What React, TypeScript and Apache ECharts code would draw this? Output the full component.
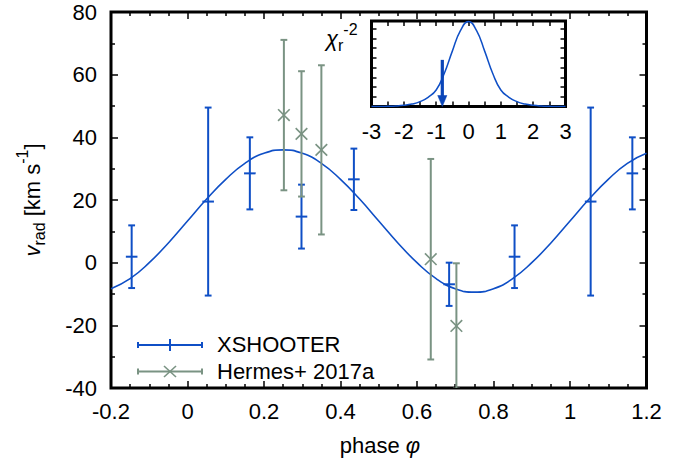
import React, { useEffect, useRef } from 'react';
import * as echarts from 'echarts';

// XSHOOTER radial velocities (phase, v_rad, error)
const xsPhase = [-0.146, 0.054, 0.163, 0.298, 0.435, 0.684, 0.855, 1.054, 1.163];
const xsVrad = [1.9, 19.5, 28.5, 14.7, 26.6, -6.9, 1.9, 19.5, 28.5];
const xsErr = [10.0, 30.0, 11.5, 10.2, 9.8, 6.9, 10.0, 30.0, 11.5];

// Hermes+ 2017a radial velocities
const hePhase = [0.252, 0.298, 0.35, 0.636, 0.703];
const heVrad = [47.1, 41.1, 36.0, 1.1, -20.2];
const heErr = [24.0, 20.0, 27.0, 32.0, 20.0];

// fitted curve
const curvePhase = [-0.2, -0.15, -0.1, -0.05, 0, 0.05, 0.1, 0.15, 0.2, 0.25, 0.3, 0.35, 0.4, 0.45, 0.5, 0.55, 0.6, 0.65, 0.7, 0.75, 0.8, 0.85, 0.9, 0.95, 1, 1.05, 1.1, 1.15, 1.2];
const curveVrad = [-8.3, -5.1, 0.0, 6.3, 13.3, 20.3, 26.6, 31.7, 34.9, 36.0, 34.9, 31.7, 26.6, 20.3, 13.3, 6.3, 0.0, -5.1, -8.3, -9.4, -8.3, -5.1, 0.0, 6.3, 13.3, 20.3, 26.6, 31.7, 34.9];

// inset curve
const insetX = [-3, -2.75, -2.5, -2.25, -2, -1.75, -1.5, -1.25, -1, -0.75, -0.5, -0.25, 0, 0.25, 0.5, 0.75, 1, 1.25, 1.5, 1.75, 2, 2.25, 2.5, 2.75, 3];
const insetY = [0, 0, 0.002, 0.005, 0.012, 0.025, 0.05, 0.095, 0.17, 0.34, 0.57, 0.78, 0.875, 0.78, 0.57, 0.34, 0.17, 0.095, 0.05, 0.025, 0.012, 0.005, 0.002, 0, 0];

// inset arrow: x, top, bottom
const arrowX = [-0.81];
const arrowTop = [0.48];
const arrowBottom = [0];

const legendNames = ['XSHOOTER', 'Hermes+ 2017a'];

const FONT = '"Liberation Sans", Arial, Helvetica, sans-serif';
const BLUE = '#0f4fc6';
const GREY = '#7a9383';
const FS = 22;

const fmt = (v: number) => String(parseFloat(v.toFixed(2)));

const errorBarRender = (color: string, marker: 'plus' | 'cross') => (params: any, api: any) => {
  const x = api.value(0);
  const y = api.value(1);
  const e = api.value(2);
  const c = api.coord([x, y]);
  const hi = api.coord([x, y + e]);
  const lo = api.coord([x, y - e]);
  const cap = 3.4;
  const m = 5.8;
  const st = { stroke: color, lineWidth: 2, fill: 'none' };
  const children: any[] = [
    { type: 'line', shape: { x1: c[0], y1: hi[1], x2: c[0], y2: lo[1] }, style: st },
    { type: 'line', shape: { x1: c[0] - cap, y1: hi[1], x2: c[0] + cap, y2: hi[1] }, style: st },
    { type: 'line', shape: { x1: c[0] - cap, y1: lo[1], x2: c[0] + cap, y2: lo[1] }, style: st },
  ];
  if (marker === 'plus') {
    children.push({ type: 'line', shape: { x1: c[0] - m, y1: c[1], x2: c[0] + m, y2: c[1] }, style: st });
  } else {
    children.push({ type: 'line', shape: { x1: c[0] - m, y1: c[1] - m, x2: c[0] + m, y2: c[1] + m }, style: { ...st, lineWidth: 1.6 } });
    children.push({ type: 'line', shape: { x1: c[0] - m, y1: c[1] + m, x2: c[0] + m, y2: c[1] - m }, style: { ...st, lineWidth: 1.6 } });
  }
  return { type: 'group', children };
};

const arrowRender = (params: any, api: any) => {
  const x = api.value(0);
  const top = api.coord([x, api.value(1)]);
  const bot = api.coord([x, api.value(2)]);
  const headH = 11;
  const headW = 4.6;
  return {
    type: 'group',
    children: [
      { type: 'line', shape: { x1: top[0], y1: top[1], x2: bot[0], y2: bot[1] - headH + 1 }, style: { stroke: '#0a45b8', lineWidth: 3.2 } },
      {
        type: 'polygon',
        shape: { points: [[bot[0] - headW, bot[1] - headH], [bot[0] + headW, bot[1] - headH], [bot[0], bot[1]]] },
        style: { fill: '#0a45b8', stroke: '#0a45b8', lineWidth: 0.5 },
      },
    ],
  };
};

const tickStyle = { color: '#000', width: 1.5 };

function axis(gridIndex: number, position: string, showLabel: boolean, extra: any) {
  return {
    type: 'value',
    gridIndex,
    position,
    axisLine: { show: false, onZero: false },
    splitLine: { show: false },
    minorSplitLine: { show: false },
    axisTick: { show: true, inside: true, length: 7, lineStyle: tickStyle },
    axisLabel: {
      show: showLabel,
      fontSize: FS,
      fontFamily: FONT,
      color: '#000',
      margin: 12,
      formatter: fmt,
    },
    ...extra,
  };
}

export default function App() {
  const ref = useRef<HTMLDivElement>(null);

  useEffect(() => {
    const chart = echarts.init(ref.current!, null, { renderer: 'svg' });

    const mainX = { min: -0.2, max: 1.2, interval: 0.2, minorTick: { show: true, splitNumber: 4, length: 4, lineStyle: tickStyle } };
    const mainY = { min: -40, max: 80, interval: 20, minorTick: { show: true, splitNumber: 2, length: 4, lineStyle: tickStyle } };
    const insX = { min: -3, max: 3, interval: 1, minorTick: { show: true, splitNumber: 2, length: 5, lineStyle: tickStyle } };
    const insY = { min: 0, max: 0.88, interval: 0.1 };
    const insTick = { show: true, inside: true, length: 5, lineStyle: tickStyle };

    const xAxes: any[] = [
      axis(0, 'bottom', true, mainX),
      axis(0, 'top', false, mainX),
      axis(1, 'bottom', true, { ...insX, axisTick: insTick, axisLabel: { show: true, fontSize: FS, fontFamily: FONT, color: '#000', margin: 14, formatter: fmt } }),
      axis(1, 'top', false, { ...insX, axisTick: insTick }),
    ];
    const yAxes: any[] = [
      axis(0, 'left', true, { ...mainY, axisLabel: { show: true, fontSize: FS, fontFamily: FONT, color: '#000', margin: 14, formatter: fmt } }),
      axis(0, 'right', false, mainY),
      axis(1, 'left', false, { ...insY, axisTick: insTick }),
      axis(1, 'right', false, { ...insY, axisTick: insTick }),
    ];

    const legendY = [345, 371.5];
    const lx1 = 138;
    const lx2 = 202;
    const lm = 170;
    const legendGraphics: any[] = [];
    legendNames.forEach((name, i) => {
      const col = i === 0 ? BLUE : GREY;
      const y = legendY[i];
      const st = { stroke: col, lineWidth: 2 };
      const ch: any[] = [
        { type: 'line', shape: { x1: lx1, y1: y, x2: lx2, y2: y }, style: st },
        { type: 'line', shape: { x1: lx1, y1: y - 3, x2: lx1, y2: y + 3 }, style: st },
        { type: 'line', shape: { x1: lx2, y1: y - 3, x2: lx2, y2: y + 3 }, style: st },
      ];
      if (i === 0) {
        ch.push({ type: 'line', shape: { x1: lm, y1: y - 6, x2: lm, y2: y + 6 }, style: st });
      } else {
        ch.push({ type: 'line', shape: { x1: lm - 6, y1: y - 5.5, x2: lm + 6, y2: y + 5.5 }, style: { ...st, lineWidth: 1.6 } });
        ch.push({ type: 'line', shape: { x1: lm - 6, y1: y + 5.5, x2: lm + 6, y2: y - 5.5 }, style: { ...st, lineWidth: 1.6 } });
      }
      ch.push({
        type: 'text',
        x: 217,
        y: y - 0.5,
        style: { text: name, fontSize: FS, fontFamily: FONT, fill: '#000', align: 'left', verticalAlign: 'middle', textAlign: 'left', textVerticalAlign: 'middle' },
      });
      legendGraphics.push({ type: 'group', children: ch, z: 10 });
    });

    const richBase = { fontFamily: FONT, fill: '#000', color: '#000', verticalAlign: 'middle' };

    const option: any = {
      animation: false,
      backgroundColor: '#fff',
      textStyle: { fontFamily: FONT },
      grid: [
        { left: 111, top: 12, width: 535.5, height: 376, show: true, borderColor: '#000', borderWidth: 3, backgroundColor: 'transparent' },
        { left: 371.5, top: 21, width: 194, height: 85.5, show: true, borderColor: '#000', borderWidth: 3, backgroundColor: '#fff' },
      ],
      xAxis: xAxes,
      yAxis: yAxes,
      series: [
        {
          type: 'line',
          xAxisIndex: 0,
          yAxisIndex: 0,
          data: curvePhase.map((p, i) => [p, curveVrad[i]]),
          smooth: true,
          showSymbol: false,
          symbol: 'none',
          clip: true,
          lineStyle: { color: BLUE, width: 1.6 },
          z: 2,
        },
        {
          type: 'custom',
          name: 'XSHOOTER',
          xAxisIndex: 0,
          yAxisIndex: 0,
          clip: true,
          data: xsPhase.map((p, i) => [p, xsVrad[i], xsErr[i]]),
          encode: { x: 0, y: 1 },
          renderItem: errorBarRender(BLUE, 'plus'),
          z: 3,
        },
        {
          type: 'custom',
          name: 'Hermes+ 2017a',
          xAxisIndex: 0,
          yAxisIndex: 0,
          clip: true,
          data: hePhase.map((p, i) => [p, heVrad[i], heErr[i]]),
          encode: { x: 0, y: 1 },
          renderItem: errorBarRender(GREY, 'cross'),
          z: 4,
        },
        {
          type: 'line',
          xAxisIndex: 2,
          yAxisIndex: 2,
          data: insetX.map((x, i) => [x, insetY[i]]),
          smooth: true,
          showSymbol: false,
          symbol: 'none',
          clip: true,
          lineStyle: { color: BLUE, width: 1.5 },
          z: 6,
        },
        {
          type: 'custom',
          xAxisIndex: 2,
          yAxisIndex: 2,
          data: arrowX.map((x, i) => [x, arrowTop[i], arrowBottom[i]]),
          encode: { x: 0, y: 1 },
          renderItem: arrowRender,
          z: 7,
        },
      ],
      graphic: [
        ...legendGraphics,
        {
          type: 'text',
          x: 32,
          y: 200,
          rotation: Math.PI / 2,
          z: 10,
          style: {
            text: '{v|v}{s|rad}{n| [km s}{p|-1}{n|]}',
            align: 'center',
            verticalAlign: 'middle',
            textAlign: 'center',
            textVerticalAlign: 'middle',
            rich: {
              v: { ...richBase, fontSize: FS, fontStyle: 'italic' },
              n: { ...richBase, fontSize: FS },
              s: { ...richBase, fontSize: 16, padding: [15, 0, 0, 0] },
              p: { ...richBase, fontSize: 16, padding: [0, 0, 19, 0] },
            },
          },
        },
        {
          type: 'text',
          x: 380,
          y: 445.5,
          z: 10,
          style: {
            text: '{n|phase }{i|φ}',
            align: 'center',
            verticalAlign: 'middle',
            textAlign: 'center',
            textVerticalAlign: 'middle',
            rich: {
              n: { ...richBase, fontSize: FS },
              i: { ...richBase, fontSize: FS, fontStyle: 'italic' },
            },
          },
        },
        {
          type: 'text',
          x: 326,
          y: 38.5,
          z: 10,
          style: {
            text: '{c|χ}{s|r}{p|-2}',
            align: 'left',
            verticalAlign: 'middle',
            textAlign: 'left',
            textVerticalAlign: 'middle',
            rich: {
              c: { ...richBase, fontSize: FS, fontStyle: 'italic' },
              s: { ...richBase, fontSize: 16, padding: [13, 0, 0, 0] },
              p: { ...richBase, fontSize: 16, padding: [0, 0, 19, 0] },
            },
          },
        },
      ],
    };

    chart.setOption(option);
    return () => chart.dispose();
  }, []);

  return (
    <div
      ref={ref}
      style={{ position: 'fixed', left: 0, top: 0, width: 692, height: 465, background: '#fff' }}
    />
  );
}
